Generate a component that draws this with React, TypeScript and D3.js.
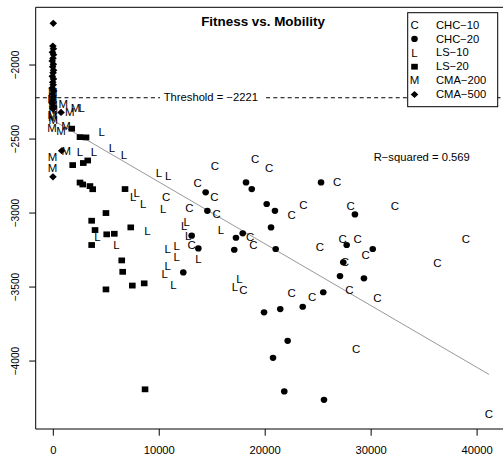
import React from 'react';
import * as d3 from 'd3';

const W = 503;
const H = 457;
const SX = 1.1; // horizontal stretch of the reference image
const FONT = '"Liberation Sans", Arial, Helvetica, sans-serif';

type P = [number, number];

const chc10: P[] = [
  [15260, -2687], [19040, -2635], [20360, -2698], [13630, -2799], [15200, -2890],
  [10640, -2894], [12840, -2968], [15420, -3007], [23600, -2946], [22500, -3014],
  [26800, -2795], [28070, -2957], [32250, -2957], [27310, -3178], [28730, -3178],
  [38950, -3178], [25170, -3232], [29480, -3284], [27530, -3333], [36240, -3340],
  [18570, -3164], [18880, -3216], [13060, -3216], [17930, -3520], [22500, -3543],
  [24440, -3566], [27940, -3520], [30580, -3578], [28570, -3921], [41120, -4360],
];

const chc20: P[] = [
  [18190, -2793], [18730, -2838], [14380, -2860], [20140, -2939], [20920, -2985],
  [14540, -2985], [25270, -2793], [20550, -3097], [17880, -3137], [17240, -3167],
  [13060, -3153], [13690, -3239], [17080, -3248], [20990, -3243], [12270, -3401],
  [25480, -3535], [28470, -3009], [27690, -3216], [30150, -3243], [27370, -3333],
  [27060, -3426], [29320, -3441], [19890, -3671], [21420, -3649], [23540, -3633],
  [22120, -3863], [20740, -3978], [21800, -4205], [25550, -4262],
];

const ls10: P[] = [
  [2680, -2293], [4570, -2453], [2520, -2586], [3840, -2586], [5540, -2561],
  [6670, -2612], [9980, -2732], [10850, -2752], [7870, -2863], [7550, -2890],
  [8490, -2939], [10380, -2973], [8890, -3125], [4170, -3164], [5950, -3216],
  [10800, -3245], [10800, -3358], [10510, -3414], [12590, -3059], [12360, -3088],
  [12740, -3160], [15830, -3115], [11650, -3223], [11650, -3299], [13690, -3311],
  [11330, -3491], [17560, -3448], [17150, -3498], [-250, -2228],
];

const ls20: P[] = [
  [1740, -2430], [2520, -2487], [3090, -2489], [1830, -2676], [2830, -2662],
  [3250, -2645], [2520, -2794], [2780, -2807], [3460, -2818], [3720, -2839],
  [6770, -2838], [4970, -3000], [3620, -3052], [3940, -3115], [5040, -3144],
  [5760, -3140], [7310, -3097], [3620, -3216], [6460, -3320], [6550, -3397],
  [4970, -3516], [7460, -3490], [8580, -3475], [8660, -4191],
];

const cma200: P[] = [
  [940, -2268], [1550, -2318], [2100, -2295], [-60, -2355], [-120, -2428],
  [730, -2448], [1200, -2412], [1230, -2581], [-80, -2620], [-80, -2698],
  [-40, -2185], [-70, -2230], [-30, -2270], [0, -2305], [-100, -2340],
  [-10, -2375],
];

const cma500: P[] = [
  [0, -1718], [-40, -1872], [10, -1890], [-80, -1913], [20, -1930],
  [-30, -1955], [-100, -1972], [5, -1994], [-60, -2012], [25, -2035],
  [-20, -2053], [-90, -2076], [15, -2094], [-50, -2116], [-10, -2134],
  [-110, -2156], [30, -2176], [-70, -2195], [0, -2217], [-40, -2236],
  [-100, -2258], [10, -2277], [-30, -2296], [730, -2320], [790, -2579],
  [-30, -2755],
];

const legendLabels = ['CHC\u221210', 'CHC\u221220', 'LS\u221210', 'LS\u221220', 'CMA\u2212200', 'CMA\u2212500'];
const legendKinds = ['C', 'circle', 'L', 'square', 'M', 'diamond'];
const xTicks = [0, 10000, 20000, 30000, 40000];
const yTicks = [-2000, -2500, -3000, -3500, -4000];
const threshold = -2221;
const fitIntercept = -2374;
const fitSlope = -0.04174;
const rSquared = '0.569';
const title = 'Fitness vs. Mobility';

const fmt = (v: number) => String(v).replace('-', '\u2212');

function Txt({ x, y, children, size = 10.2, anchor = 'middle', weight = 'normal', dy = '0', rotate = 0 }: any) {
  return (
    <text
      transform={`translate(${x},${y}) scale(${SX},1)${rotate ? ` rotate(${rotate})` : ''}`}
      fontSize={size}
      fontFamily={FONT}
      fontWeight={weight}
      textAnchor={anchor}
      dy={dy}
      fill="#000"
    >
      {children}
    </text>
  );
}

function Mark({ kind, cx, cy }: { kind: string; cx: number; cy: number }) {
  if (kind === 'circle') return <ellipse cx={cx} cy={cy} rx={3.3} ry={3.1} fill="#000" />;
  if (kind === 'square') return <rect x={cx - 3.3} y={cy - 2.9} width={6.6} height={5.8} fill="#000" />;
  if (kind === 'diamond')
    return <path d={`M${cx},${cy - 3.6}L${cx + 3.8},${cy}L${cx},${cy + 3.6}L${cx - 3.8},${cy}Z`} fill="#000" />;
  return <Txt x={cx} y={cy} size={10.4} dy="0.36em">{kind}</Txt>;
}

export default function App() {
  const left = 35.7, right = 506.7, top = 7.3, bottom = 429;
  const x = d3.scaleLinear().domain([-1661, 42794]).range([left, right]);
  const y = d3.scaleLinear().domain([-4459, -1610]).range([bottom, top]);

  const series: [P[], string][] = [
    [chc10, 'C'], [chc20, 'circle'], [ls10, 'L'], [ls20, 'square'], [cma200, 'M'], [cma500, 'diamond'],
  ];
  const allX = series.flatMap(([d]) => d.map((p) => p[0]));
  const [xmin, xmax] = d3.extent(allX) as [number, number];
  const fit = d3.line<number>().x((v) => x(v)).y((v) => y(fitIntercept + fitSlope * v));

  const ty = y(threshold);
  const legX = 407.7, legY = 12.7, legW = 90, legH = 94;

  return (
    <svg width={W} height={H} style={{ position: 'absolute', left: 0, top: 0, background: '#fff' }}>
      <rect x={0} y={0} width={W} height={H} fill="#fff" />
      {/* threshold line */}
      <line x1={left} x2={right} y1={ty} y2={ty} stroke="#000" strokeWidth={1} strokeDasharray="4,3.2" />
      <rect x={160} y={ty - 7} width={106} height={14} fill="#fff" />
      <Txt x={210.8} y={ty} dy="0.36em">{`Threshold = ${fmt(threshold)}`}</Txt>

      {/* regression line */}
      <path d={fit([xmin, xmax]) || ''} stroke="#999" strokeWidth={1} fill="none" />

      {series.map(([data, kind], i) => (
        <g key={i}>
          {data.map((p, j) => (
            <Mark key={j} kind={kind} cx={x(p[0])} cy={y(p[1])} />
          ))}
        </g>
      ))}

      {/* box / axes */}
      <path d={`M${right},${top}H${left}V${bottom}H${right}`} stroke="#000" strokeWidth={1} fill="none" />
      {xTicks.map((t) => (
        <g key={t}>
          <line x1={x(t)} x2={x(t)} y1={bottom} y2={bottom + 6.7} stroke="#000" />
          <Txt x={x(t)} y={454}>{fmt(t)}</Txt>
        </g>
      ))}
      {yTicks.map((t) => (
        <g key={t}>
          <line x1={left - 6.5} x2={left} y1={y(t)} y2={y(t)} stroke="#000" />
          <Txt x={19.4} y={y(t)} rotate={-90}>{fmt(t)}</Txt>
        </g>
      ))}

      <Txt x={263} y={26} size={12.2} weight="bold">{title}</Txt>
      <Txt x={421.7} y={161}>{`R\u2212squared = ${rSquared}`}</Txt>

      {/* legend */}
      <rect x={legX} y={legY} width={legW} height={legH} fill="#fff" stroke="#000" strokeWidth={1} />
      {legendLabels.map((lab, i) => {
        const cy = 25 + i * 13.9;
        return (
          <g key={lab}>
            <Mark kind={legendKinds[i]} cx={414.5} cy={cy} />
            <Txt x={436} y={cy} anchor="start" dy="0.36em">{lab}</Txt>
          </g>
        );
      })}
    </svg>
  );
}
